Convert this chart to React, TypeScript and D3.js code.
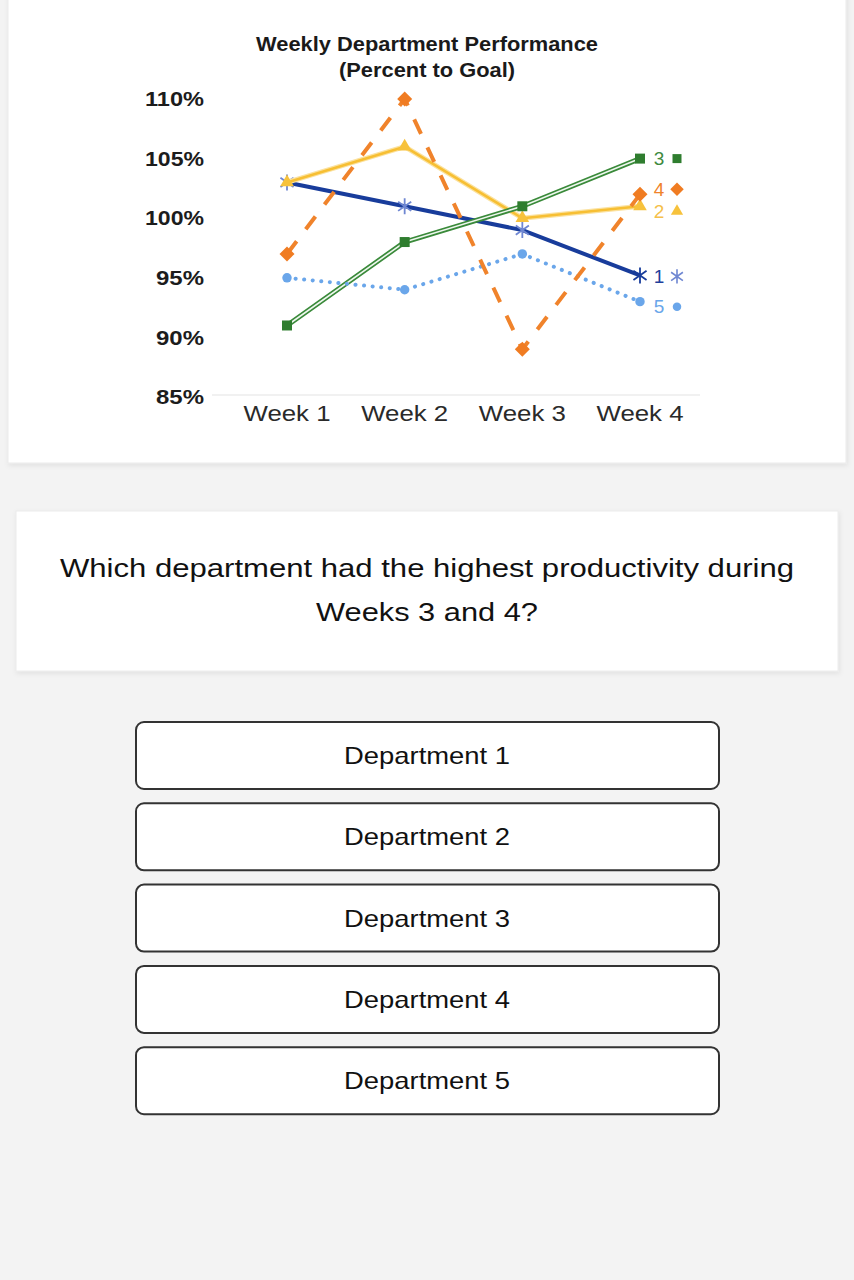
import React from "react";
import * as d3 from "d3";

const weeks = ["Week 1", "Week 2", "Week 3", "Week 4"];
const dept1 = [103, 101, 99, 95.2];
const dept2 = [103, 106, 100, 101];
const dept3 = [91, 98, 101, 105];
const dept4 = [97, 110, 89, 102];
const dept5 = [95, 94, 97, 93];
const yTicks = [110, 105, 100, 95, 90, 85];
const titleLines = ["Weekly Department Performance", "(Percent to Goal)"];
const questionLines = ["Which department had the highest productivity during", "Weeks 3 and 4?"];
const answerOptions = ["Department 1", "Department 2", "Department 3", "Department 4", "Department 5"];

const W = 854;
const H = 1280;

const x = d3.scalePoint<string>().domain(weeks).range([287, 640]);
const y = d3.scaleLinear().domain([85, 110]).range([397, 99]);

const line = d3
  .line<number>()
  .x((_, i) => x(weeks[i]) as number)
  .y((d) => y(d));

function asteriskPath(r: number) {
  const p = d3.path();
  [90, 35, 145].forEach((deg) => {
    const a = (deg * Math.PI) / 180;
    p.moveTo(-r * Math.cos(a), -r * Math.sin(a));
    p.lineTo(r * Math.cos(a), r * Math.sin(a));
  });
  return p.toString();
}

function diamondPath(r: number) {
  const p = d3.path();
  p.moveTo(0, -r);
  p.lineTo(r, 0);
  p.lineTo(0, r);
  p.lineTo(-r, 0);
  p.closePath();
  return p.toString();
}

const sym = (type: d3.SymbolType, size: number) => d3.symbol().type(type).size(size)() as string;

type Series = {
  name: string;
  values: number[];
  color: string;
  labelColor: string;
  labelDy: number;
  marker: string;
  markerFill: string | null;
  markerStroke: string | null;
};

const series: Series[] = [
  { name: "1", values: dept1, color: "#183c9b", labelColor: "#1f3f9c", labelDy: 1, marker: asteriskPath(8), markerFill: null, markerStroke: "#6f87d2" },
  { name: "2", values: dept2, color: "#f7bf33", labelColor: "#f5c04a", labelDy: 5, marker: sym(d3.symbolTriangle, 80), markerFill: "#f7c23c", markerStroke: null },
  { name: "3", values: dept3, color: "#3a8a3a", labelColor: "#3f8a3f", labelDy: 0, marker: sym(d3.symbolSquare, 100), markerFill: "#2f7d2f", markerStroke: null },
  { name: "5", values: dept5, color: "#6aa6ea", labelColor: "#6aa6ea", labelDy: 5, marker: sym(d3.symbolCircle, 70), markerFill: "#6aa6ea", markerStroke: null },
  { name: "4", values: dept4, color: "#f0832b", labelColor: "#f0832b", labelDy: -5, marker: diamondPath(7.5), markerFill: "#f07c22", markerStroke: null },
];

function LinePath({ s }: { s: Series }) {
  const d = line(s.values) as string;
  if (s.name === "1") return <path d={d} fill="none" stroke={s.color} strokeWidth={4} strokeLinejoin="round" />;
  if (s.name === "2")
    return (
      <g>
        <path d={d} fill="none" stroke="#fbe2a0" strokeWidth={5} strokeLinejoin="round" />
        <path d={d} fill="none" stroke={s.color} strokeWidth={2.5} strokeLinejoin="round" />
      </g>
    );
  if (s.name === "3")
    return (
      <g>
        <path d={d} fill="none" stroke={s.color} strokeWidth={5} strokeLinejoin="round" />
        <path d={d} fill="none" stroke="#eef7ee" strokeWidth={1.6} strokeLinejoin="round" />
      </g>
    );
  if (s.name === "4")
    return <path d={d} fill="none" stroke={s.color} strokeWidth={4} strokeDasharray="16 15" />;
  return <path d={d} fill="none" stroke={s.color} strokeWidth={4} strokeDasharray="0.1 8.5" strokeLinecap="round" />;
}

function Marker({ s, cx, cy, scale = 1, stroke }: { s: Series; cx: number; cy: number; scale?: number; stroke?: string }) {
  return (
    <path
      d={s.marker}
      transform={`translate(${cx},${cy}) scale(${scale})`}
      fill={s.markerFill ?? "none"}
      stroke={stroke ?? s.markerStroke ?? "none"}
      strokeWidth={s.markerStroke ? 1.8 : 0}
    />
  );
}

export default function App() {
  const lastX = x(weeks[weeks.length - 1]) as number;
  return (
    <svg
      width={W}
      height={H}
      viewBox={`0 0 ${W} ${H}`}
      style={{ position: "absolute", left: 0, top: 0, display: "block" }}
      fontFamily="'Liberation Sans', Arial, Helvetica, sans-serif"
    >
      <defs>
        <filter id="shadow" x="-5%" y="-5%" width="110%" height="115%">
          <feDropShadow dx="1" dy="2" stdDeviation="2.5" floodColor="#000" floodOpacity="0.08" />
        </filter>
      </defs>
      <rect x={0} y={0} width={W} height={H} fill="#f3f3f3" />

      {/* chart card */}
      <rect x={8} y={-10} width={838} height={473} fill="#ffffff" stroke="#ebebeb" strokeWidth={1} filter="url(#shadow)" />

      {/* title */}
      {titleLines.map((t, i) => (
        <text
          key={t}
          x={427}
          y={51 + i * 26}
          textAnchor="middle"
          fontWeight="bold"
          fontSize={19.5}
          fill="#1a1a1a"
          textLength={i === 0 ? 342 : 176}
          lengthAdjust="spacingAndGlyphs"
        >
          {t}
        </text>
      ))}

      {/* y labels */}
      {yTicks.map((v) => (
        <text
          key={v}
          x={204}
          y={y(v)}
          dy="0.36em"
          textAnchor="end"
          fontWeight="bold"
          fontSize={20}
          fill="#1c1c1c"
          textLength={v >= 100 ? 59 : 48}
          lengthAdjust="spacingAndGlyphs"
        >
          {v}%
        </text>
      ))}

      {/* baseline */}
      <line x1={212} x2={700} y1={y(85) - 2} y2={y(85) - 2} stroke="#e4e4e4" strokeWidth={1.2} />

      {/* x labels */}
      {weeks.map((w) => (
        <text
          key={w}
          x={x(w) as number}
          y={421}
          textAnchor="middle"
          fontSize={22}
          fill="#2a2a2a"
          textLength={87}
          lengthAdjust="spacingAndGlyphs"
        >
          {w}
        </text>
      ))}

      {/* lines */}
      {series.map((s) => (
        <g key={s.name}>
          <LinePath s={s} />
          {s.values.map((v, i) => (
            <Marker
              key={i}
              s={s}
              cx={x(weeks[i]) as number}
              cy={y(v)}
              stroke={s.name === "1" && i === 3 ? "#183c9b" : undefined}
            />
          ))}
        </g>
      ))}

      {/* end labels */}
      {series.map((s) => {
        const ly = y(s.values[s.values.length - 1]) + s.labelDy;
        return (
          <g key={s.name}>
            <text x={lastX + 19} y={ly} dy="0.36em" textAnchor="middle" fontSize={19} fill={s.labelColor}>
              {s.name}
            </text>
            <Marker s={s} cx={lastX + 37} cy={ly} scale={0.9} />
          </g>
        );
      })}

      {/* question card */}
      <rect x={16} y={511} width={822} height={160} fill="#ffffff" stroke="#ececec" strokeWidth={1} filter="url(#shadow)" />
      {questionLines.map((t, i) => (
        <text
          key={t}
          x={427}
          y={577 + i * 44}
          textAnchor="middle"
          fontSize={26}
          fill="#111"
          textLength={i === 0 ? 734 : 222}
          lengthAdjust="spacingAndGlyphs"
        >
          {t}
        </text>
      ))}

      {/* answer buttons */}
      {answerOptions.map((o, i) => {
        const top = 722 + i * 81.3;
        return (
          <g key={o}>
            <rect x={136} y={top} width={583} height={67} rx={8} fill="#ffffff" stroke="#333" strokeWidth={2} />
            <text
              x={427}
              y={top + 33.5}
              dy="0.36em"
              textAnchor="middle"
              fontSize={24}
              fill="#111"
              textLength={166}
              lengthAdjust="spacingAndGlyphs"
            >
              {o}
            </text>
          </g>
        );
      })}
    </svg>
  );
}
